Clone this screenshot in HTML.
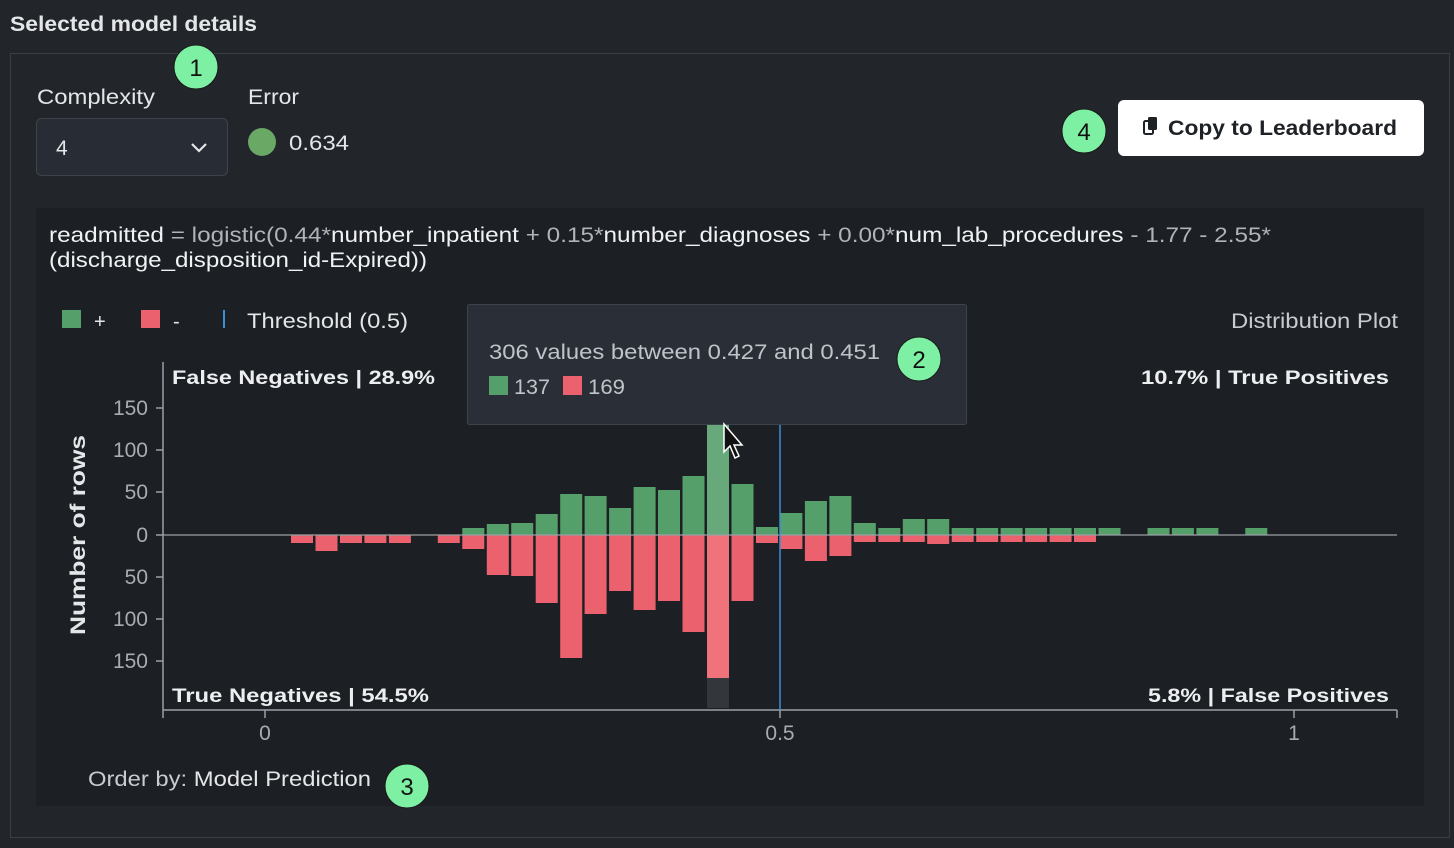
<!DOCTYPE html>
<html><head><meta charset="utf-8"><style>
html,body{margin:0;padding:0;background:#22262b;}
svg{display:block;font-family:"Liberation Sans",sans-serif;}
</style></head><body>
<svg width="1454" height="848" viewBox="0 0 1454 848">
<rect width="1454" height="848" fill="#22262b"/>
<text x="10" y="31" font-size="21" font-weight="bold" fill="#e4e6e8" textLength="247" lengthAdjust="spacingAndGlyphs">Selected model details</text>
<rect x="10.5" y="53.5" width="1439" height="784" fill="#22262b" stroke="#3a3f45"/>
<text x="37" y="104" font-size="21" fill="#e4e6e8" textLength="118" lengthAdjust="spacingAndGlyphs">Complexity</text>
<text x="248" y="104" font-size="21" fill="#e4e6e8" textLength="51" lengthAdjust="spacingAndGlyphs">Error</text>
<rect x="36.5" y="118.5" width="191" height="57" rx="5" fill="#282d35" stroke="#3d434b"/>
<text x="56" y="155" font-size="21" fill="#e4e6e8">4</text>
<path d="M192 144 l7 7 l7 -7" fill="none" stroke="#e4e6e8" stroke-width="2.2"/>
<circle cx="262" cy="142" r="14" fill="#6aa866"/>
<text x="289" y="150" font-size="21" fill="#e4e6e8" textLength="60" lengthAdjust="spacingAndGlyphs">0.634</text>
<rect x="1118" y="100" width="306" height="56" rx="6" fill="#ffffff"/>
<rect x="1144" y="121" width="9" height="13" rx="1.5" fill="#fff" stroke="#1e2125" stroke-width="2"/>
<rect x="1148" y="117" width="9" height="13" rx="1.5" fill="#1e2125"/>
<text x="1168" y="135" font-size="21" font-weight="bold" fill="#1e2125" textLength="229" lengthAdjust="spacingAndGlyphs">Copy to Leaderboard</text>
<rect x="36" y="208" width="1388" height="598" fill="#1c1f23"/>
<text x="49" y="242" font-size="21" fill="#f0f2f4" textLength="1222" lengthAdjust="spacingAndGlyphs">readmitted <tspan fill="#b0b4b8">= logistic(0.44*</tspan>number_inpatient <tspan fill="#b0b4b8">+ 0.15*</tspan>number_diagnoses <tspan fill="#b0b4b8">+ 0.00*</tspan>num_lab_procedures <tspan fill="#b0b4b8">- 1.77 - 2.55*</tspan></text>
<text x="49" y="267" font-size="21" fill="#f0f2f4" textLength="378" lengthAdjust="spacingAndGlyphs">(discharge_disposition_id-Expired))</text>
<rect x="62" y="310" width="19" height="18" fill="#55a06a"/>
<text x="94" y="328" font-size="20" fill="#e4e6e8">+</text>
<rect x="141" y="310" width="19" height="18" fill="#eb616d"/>
<text x="173" y="328" font-size="20" fill="#e4e6e8">-</text>
<rect x="223" y="310" width="2" height="18" fill="#3b8fd9"/>
<text x="247" y="328" font-size="21" fill="#e4e6e8" textLength="161" lengthAdjust="spacingAndGlyphs">Threshold (0.5)</text>
<text x="1231" y="328" font-size="21" fill="#c8ccd0" textLength="167" lengthAdjust="spacingAndGlyphs">Distribution Plot</text>
<g stroke="#9aa0a6" stroke-width="1.5">
<line x1="163" y1="362" x2="163" y2="710"/>
<line x1="163" y1="710" x2="1397" y2="710"/>
<line x1="156" y1="408" x2="163" y2="408"/><line x1="156" y1="450" x2="163" y2="450"/><line x1="156" y1="492" x2="163" y2="492"/><line x1="156" y1="535" x2="163" y2="535"/><line x1="156" y1="577" x2="163" y2="577"/><line x1="156" y1="619" x2="163" y2="619"/><line x1="156" y1="661" x2="163" y2="661"/>
<line x1="163" y1="710" x2="163" y2="718"/><line x1="265" y1="710" x2="265" y2="718"/><line x1="780" y1="710" x2="780" y2="718"/><line x1="1294" y1="710" x2="1294" y2="718"/><line x1="1397" y1="710" x2="1397" y2="718"/>
</g>
<g font-size="21" fill="#a8acb0" text-anchor="end">
<text x="148" y="415">150</text><text x="148" y="457">100</text><text x="148" y="499">50</text><text x="148" y="542">0</text><text x="148" y="584">50</text><text x="148" y="626">100</text><text x="148" y="668">150</text>
</g>
<g font-size="21" fill="#a8acb0" text-anchor="middle">
<text x="265" y="740">0</text><text x="780" y="740">0.5</text><text x="1294" y="740">1</text>
</g>
<text x="435" y="85" transform="rotate(-90 85 535) translate(-350 450)" font-size="21" font-weight="bold" fill="#e4e6e8" textLength="200" lengthAdjust="spacingAndGlyphs" display="none">Number of rows</text>
<g transform="translate(85,635) rotate(-90)"><text x="0" y="0" font-size="21" font-weight="bold" fill="#e4e6e8" textLength="200" lengthAdjust="spacingAndGlyphs">Number of rows</text></g>
<g font-size="19" font-weight="bold" fill="#eceef0">
<text x="172" y="384" textLength="263" lengthAdjust="spacingAndGlyphs">False Negatives | 28.9%</text>
<text x="1141" y="384" textLength="248" lengthAdjust="spacingAndGlyphs">10.7% | True Positives</text>
<text x="172" y="702" textLength="257" lengthAdjust="spacingAndGlyphs">True Negatives | 54.5%</text>
<text x="1148" y="702" textLength="241" lengthAdjust="spacingAndGlyphs">5.8% | False Positives</text>
</g>
<rect x="707" y="535" width="22" height="173" fill="#33363a"/>
<rect x="467.5" y="304.5" width="499" height="120" rx="2" fill="#2a2f37" stroke="#3d434b"/>
<text x="489" y="359" font-size="21" fill="#c0c4c8" textLength="391" lengthAdjust="spacingAndGlyphs">306 values between 0.427 and 0.451</text>
<rect x="489" y="376" width="19" height="19" fill="#55a06a"/>
<text x="514" y="394" font-size="21" fill="#c0c4c8" textLength="36" lengthAdjust="spacingAndGlyphs">137</text>
<rect x="563" y="376" width="19" height="19" fill="#eb616d"/>
<text x="588" y="394" font-size="21" fill="#c0c4c8" textLength="37" lengthAdjust="spacingAndGlyphs">169</text>
<text x="88" y="786" font-size="21" fill="#c8ccd0" textLength="283" lengthAdjust="spacingAndGlyphs">Order by: <tspan fill="#e4e6e8">Model Prediction</tspan></text>
<g font-size="24" fill="#111" text-anchor="middle">
<circle cx="196" cy="67" r="22" fill="#7ef0a4" stroke="#1a1a1a"/><text x="196" y="76">1</text>
<circle cx="919" cy="359" r="22" fill="#7ef0a4" stroke="#1a1a1a"/><text x="919" y="368">2</text>
<circle cx="407" cy="786" r="22" fill="#7ef0a4" stroke="#1a1a1a"/><text x="407" y="795">3</text>
<circle cx="1084" cy="131" r="22" fill="#7ef0a4" stroke="#1a1a1a"/><text x="1084" y="140">4</text>
</g>
<g>
<rect x="291" y="535" width="22" height="8" fill="#eb616d"/>
<rect x="315.5" y="535" width="22" height="16" fill="#eb616d"/>
<rect x="340" y="535" width="22" height="8" fill="#eb616d"/>
<rect x="364.4" y="535" width="22" height="8" fill="#eb616d"/>
<rect x="388.9" y="535" width="22" height="8" fill="#eb616d"/>
<rect x="437.8" y="535" width="22" height="8" fill="#eb616d"/>
<rect x="462.3" y="528" width="22" height="7" fill="#55a06a"/><rect x="462.3" y="535" width="22" height="14" fill="#eb616d"/>
<rect x="486.8" y="524" width="22" height="11" fill="#55a06a"/><rect x="486.8" y="535" width="22" height="40" fill="#eb616d"/>
<rect x="511.2" y="523" width="22" height="12" fill="#55a06a"/><rect x="511.2" y="535" width="22" height="41" fill="#eb616d"/>
<rect x="535.7" y="514" width="22" height="21" fill="#55a06a"/><rect x="535.7" y="535" width="22" height="68" fill="#eb616d"/>
<rect x="560.2" y="494" width="22" height="41" fill="#55a06a"/><rect x="560.2" y="535" width="22" height="123" fill="#eb616d"/>
<rect x="584.6" y="496" width="22" height="39" fill="#55a06a"/><rect x="584.6" y="535" width="22" height="79" fill="#eb616d"/>
<rect x="609.1" y="508" width="22" height="27" fill="#55a06a"/><rect x="609.1" y="535" width="22" height="56" fill="#eb616d"/>
<rect x="633.6" y="487" width="22" height="48" fill="#55a06a"/><rect x="633.6" y="535" width="22" height="75" fill="#eb616d"/>
<rect x="658" y="490" width="22" height="45" fill="#55a06a"/><rect x="658" y="535" width="22" height="66" fill="#eb616d"/>
<rect x="682.5" y="476" width="22" height="59" fill="#55a06a"/><rect x="682.5" y="535" width="22" height="97" fill="#eb616d"/>
<rect x="707" y="425" width="22" height="110" fill="#68a97b"/><rect x="707" y="535" width="22" height="143" fill="#f0737b"/>
<rect x="731.5" y="484" width="22" height="51" fill="#55a06a"/><rect x="731.5" y="535" width="22" height="66" fill="#eb616d"/>
<rect x="756" y="527" width="22" height="8" fill="#55a06a"/><rect x="756" y="535" width="22" height="8" fill="#eb616d"/>
<rect x="780.4" y="513" width="22" height="22" fill="#55a06a"/><rect x="780.4" y="535" width="22" height="14" fill="#eb616d"/>
<rect x="804.9" y="501" width="22" height="34" fill="#55a06a"/><rect x="804.9" y="535" width="22" height="26" fill="#eb616d"/>
<rect x="829.4" y="496" width="22" height="39" fill="#55a06a"/><rect x="829.4" y="535" width="22" height="21" fill="#eb616d"/>
<rect x="853.8" y="523" width="22" height="12" fill="#55a06a"/><rect x="853.8" y="535" width="22" height="7" fill="#eb616d"/>
<rect x="878.3" y="528" width="22" height="7" fill="#55a06a"/><rect x="878.3" y="535" width="22" height="7" fill="#eb616d"/>
<rect x="902.8" y="519" width="22" height="16" fill="#55a06a"/><rect x="902.8" y="535" width="22" height="7" fill="#eb616d"/>
<rect x="927.2" y="519" width="22" height="16" fill="#55a06a"/><rect x="927.2" y="535" width="22" height="9" fill="#eb616d"/>
<rect x="951.7" y="528" width="22" height="7" fill="#55a06a"/><rect x="951.7" y="535" width="22" height="7" fill="#eb616d"/>
<rect x="976.2" y="528" width="22" height="7" fill="#55a06a"/><rect x="976.2" y="535" width="22" height="7" fill="#eb616d"/>
<rect x="1000.6" y="528" width="22" height="7" fill="#55a06a"/><rect x="1000.6" y="535" width="22" height="7" fill="#eb616d"/>
<rect x="1025.1" y="528" width="22" height="7" fill="#55a06a"/><rect x="1025.1" y="535" width="22" height="7" fill="#eb616d"/>
<rect x="1049.6" y="528" width="22" height="7" fill="#55a06a"/><rect x="1049.6" y="535" width="22" height="7" fill="#eb616d"/>
<rect x="1074" y="528" width="22" height="7" fill="#55a06a"/><rect x="1074" y="535" width="22" height="7" fill="#eb616d"/>
<rect x="1098.5" y="528" width="22" height="7" fill="#55a06a"/>
<rect x="1147.5" y="528" width="22" height="7" fill="#55a06a"/>
<rect x="1171.9" y="528" width="22" height="7" fill="#55a06a"/>
<rect x="1196.4" y="528" width="22" height="7" fill="#55a06a"/>
<rect x="1245.3" y="528" width="22" height="7" fill="#55a06a"/>
</g>
<line x1="163" y1="535" x2="1397" y2="535" stroke="#9aa0a6" stroke-width="1.2"/>
<line x1="780" y1="425" x2="780" y2="710" stroke="#3b8fd9" stroke-width="1.5"/>
<path d="M724 424 L724 452 L730 446 L735 458 L739 456 L734 445 L742 445 Z" fill="#111" stroke="#fff" stroke-width="1.5"/>
</svg>
</body></html>
